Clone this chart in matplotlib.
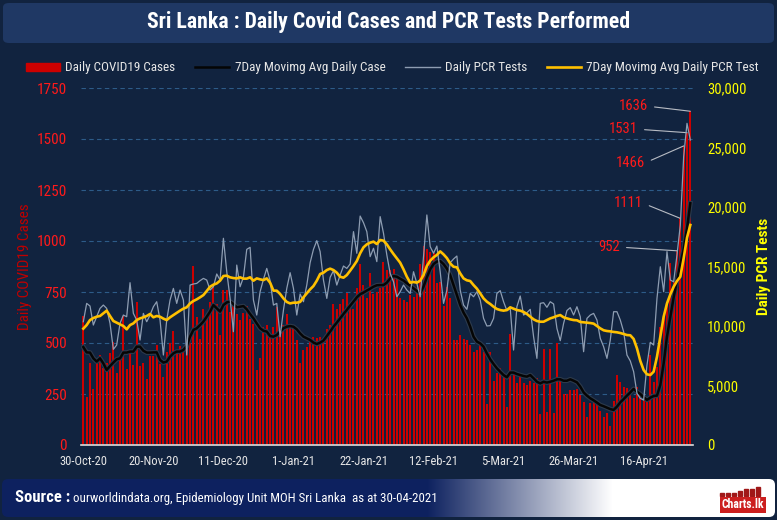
import numpy as np
import matplotlib
matplotlib.use('Agg')
import matplotlib.pyplot as plt
import matplotlib.patheffects as pe
from matplotlib import font_manager as fm
from matplotlib.patches import FancyBboxPatch, Rectangle, Patch
from matplotlib.lines import Line2D
from matplotlib.ticker import FuncFormatter

# the reference uses a condensed face; take one if installed
fonts = fm.fontManager.ttflist
names = {f.name for f in fonts}
k = 1.0
picked = None
for cand in ['Roboto Condensed', 'Open Sans Condensed', 'DejaVu Sans Condensed',
             'Liberation Sans Narrow', 'Noto Sans Condensed']:
    if cand in names:
        picked = cand
        break
if picked:
    plt.rcParams['font.family'] = [picked, 'DejaVu Sans']
elif any(f.name == 'DejaVu Sans' and f.stretch in ('condensed', 'semi-condensed') for f in fonts):
    plt.rcParams['font.family'] = ['DejaVu Sans']
    plt.rcParams['font.stretch'] = 'condensed'
    k = 0.95
else:
    plt.rcParams['font.family'] = ['Liberation Sans', 'DejaVu Sans']
    k = 0.82

# daily values, 30-Oct-20 .. 30-Apr-21 (183 days)
cases = [
    632, 237, 400, 275, 400, 441, 376, 400, 449, 507, 355, 425, 632, 373, 466, 392, 701, 389,
    400, 323, 438, 438, 490, 397, 335, 457, 498, 559, 462, 487, 457, 498, 498, 877, 629, 520,
    667, 645, 699, 776, 691, 539, 760, 760, 654, 683, 642, 613, 645, 683, 616, 593, 368, 425,
    580, 588, 547, 580, 675, 556, 588, 642, 588, 580, 515, 400, 466, 482, 515, 531, 523, 531,
    520, 567, 588, 691, 667, 691, 714, 743, 691, 667, 771, 887, 784, 722, 845, 739, 752, 771,
    899, 858, 858, 861, 817, 719, 711, 703, 735, 727, 771, 887, 976, 959, 946, 940, 793, 801,
    683, 776, 722, 515, 515, 539, 520, 515, 490, 458, 466, 490, 458, 199, 454, 314, 351, 376,
    351, 185, 544, 343, 306, 335, 306, 294, 315, 306, 327, 152, 471, 163, 471, 155, 498, 314,
    250, 248, 270, 270, 275, 245, 209, 139, 204, 212, 201, 167, 139, 155, 95, 216, 343, 310,
    286, 278, 253, 229, 286, 229, 221, 229, 441, 310, 380, 580, 640, 700, 890, 800, 952, 1111,
    1466, 1531, 1636,
]
cases_avg = [
    480, 454, 453, 425, 409, 425, 400, 368, 387, 404, 420, 425, 453, 453, 458, 458, 482, 482,
    462, 453, 453, 454, 454, 417, 404, 409, 433, 449, 458, 458, 466, 485, 531, 564, 572, 588,
    605, 629, 654, 686, 670, 654, 686, 699, 703, 691, 675, 678, 681, 665, 642, 621, 596, 572,
    560, 556, 534, 531, 539, 556, 572, 580, 583, 580, 567, 547, 531, 523, 515, 502, 495, 502,
    512, 534, 556, 580, 600, 621, 642, 662, 683, 703, 724, 739, 747, 757, 766, 776, 783, 784,
    784, 796, 817, 828, 825, 815, 806, 793, 781, 768, 755, 744, 776, 822, 861, 887, 899, 902,
    887, 865, 833, 784, 735, 686, 649, 621, 580, 531, 507, 498, 482, 449, 420, 397, 376, 359,
    343, 332, 355, 355, 348, 343, 338, 335, 343, 327, 310, 302, 310, 306, 310, 315, 322, 322,
    315, 315, 322, 315, 307, 286, 258, 242, 229, 219, 208, 196, 190, 183, 176, 172, 188, 209,
    225, 242, 258, 275, 261, 250, 234, 221, 232, 240, 242, 294, 400, 531, 626, 724, 804, 886,
    959, 1062, 1185,
]
pcr = [
    10360, 11900, 11680, 10080, 10780, 11480, 11760, 11480, 10220, 8040, 8400, 10220, 10920,
    10780, 13640, 11060, 10500, 8820, 11060, 10360, 10920, 11620, 12040, 10500, 7560, 10500,
    12180, 13160, 11900, 13020, 12180, 7560, 13440, 13530, 13580, 13810,
    14000, 13860, 13020, 13300, 14370, 13860, 17370, 14560, 12320, 9520, 15120, 13300, 14090,
    16440, 16610, 12180, 10920, 12880, 13920, 14840, 13810, 11760, 11900, 9100, 11340, 13160,
    14480, 13160, 10920, 12690, 12040, 13440, 15320, 16440, 17170, 16250,
    13860, 12320, 14090, 14650, 13440, 14280, 15040, 14840, 15210, 17930, 16110, 19240, 18680,
    17930, 15830, 16530, 15410, 19190, 17790, 15970, 14420, 13720, 12460, 12880, 13440, 13020,
    12740, 14560, 13580, 12460, 15830, 19330, 16670, 16110, 16720, 14560, 11900,
    13000, 15320, 15630, 15880, 13020, 11760, 11400, 12740, 12460, 12880, 12180, 10640, 10000,
    10030, 10640, 12740, 12970, 12040, 11290, 11480, 7980, 11620, 12520, 10920, 11120, 11400,
    9100, 7280, 11900, 11960, 11570, 12040, 11850, 9800, 8770, 10220,
    11300, 11540, 10920, 11620, 10780, 7840, 10640, 10920, 11060, 10500, 8960, 8260, 7280,
    8820, 11200, 11200, 10500, 9520, 7560, 7060, 6160, 4340, 3920, 3780, 6720, 8630, 8400,
    12320, 14980, 12880, 16250, 13860, 13720, 15970, 18490, 24230, 27030, 25630,
]
pcr_avg = [
    9780, 10080, 10500, 10670, 10780, 10840, 11060, 11290, 10840, 10420, 10280, 10140, 10000,
    9720, 10080, 10220, 10500, 10640, 10730, 10840, 11010, 10730, 10840, 10780, 10620, 10500,
    10730, 10920, 11120, 11290, 11460, 11570, 11900, 12100, 12240, 12410,
    12600, 12940, 13300, 13470, 13580, 13810, 14200, 14230, 14090, 14030, 14000, 14090, 13980,
    13980, 14090, 13810, 14000, 13920, 13860, 14000, 13640, 12970, 12970, 12690, 12320, 12020,
    11900, 11960, 11960, 12020, 12410, 12740, 13080, 13360, 13810, 14370,
    14480, 14700, 14820, 14700, 14480, 14140, 14060, 14280, 14650, 15040, 15460, 16110, 16610,
    16860, 17000, 17090, 16890, 17230, 17170, 16860, 16440, 16050, 15690, 15320, 14760, 14140,
    13640, 13700, 13640, 13810, 14280, 15040, 15490, 15770, 15970, 16270, 16020,
    15710, 15260, 14980, 14930, 14420, 14000, 13840, 13780, 13440, 13140, 12740, 12320, 12040,
    11850, 11620, 11430, 11340, 11290, 11340, 11570, 11460, 11340, 11290, 11180, 11010, 10780,
    10560, 10420, 10360, 10360, 10500, 10640, 10730, 10840, 10920, 10730,
    10640, 10560, 10500, 10480, 10340, 10310, 10280, 10250, 10200, 10000, 9800, 9640, 9580,
    9550, 9500, 9470, 9410, 9330, 9240, 9220, 8910, 8120, 7060, 6300, 5940, 5880, 6160,
    7420, 9100, 10780, 11900, 12660, 13300, 13780, 14140, 15690, 17420, 18490,
]
tick_labels = ['30-Oct-20', '20-Nov-20', '11-Dec-20', '1-Jan-21', '22-Jan-21',
               '12-Feb-21', '5-Mar-21', '26-Mar-21', '16-Apr-21']
callout_values = [952, 1111, 1466, 1531, 1636]

BG = '#11233f'
days = np.arange(len(cases))

fig = plt.figure(figsize=(7.77, 5.2), dpi=100, facecolor=BG)
ax = fig.add_axes([81 / 777, 75 / 520, 612 / 777, 357 / 520])
ax.set_facecolor(BG)

ax.bar(days, cases, width=0.6, color='#cc0000', zorder=2)
ax.plot(days, cases_avg, color='#050505', lw=1.8, zorder=3,
        path_effects=[pe.Stroke(linewidth=3.4, foreground='#2c3a4c'), pe.Normal()])

ax.set_xlim(-0.7, 182.8)
ax.set_ylim(0, 1750)
ax.set_yticks(range(0, 1751, 250))
ax.yaxis.grid(True, ls=(0, (4, 3)), color='#2d5b88', lw=0.8)
ax.set_axisbelow(True)
for s in ['top', 'left', 'right']:
    ax.spines[s].set_visible(False)
ax.spines['bottom'].set_color('#dddddd')
ax.spines['bottom'].set_linewidth(1.2)
ax.tick_params(axis='y', length=0, pad=10, labelcolor='#ff1a1a', labelsize=11 * k)
ax.set_xticks(range(0, 169, 21))
ax.set_xticklabels(tick_labels)
ax.tick_params(axis='x', length=0, pad=7, labelcolor='#e6e6e6', labelsize=9 * k)
ax.set_ylabel('Daily COVID19 Cases', color='#c00000', fontsize=11 * k)
ax.yaxis.set_label_coords(-0.08, 0.5)

ax2 = ax.twinx()
ax2.plot(days, pcr, color='#8e9db2', lw=0.9, zorder=2)
ax2.plot(days, pcr_avg, color='#ffc000', lw=1.9, zorder=3)
ax2.set_ylim(0, 30000)
ax2.set_yticks(range(0, 30001, 5000))
ax2.yaxis.set_major_formatter(FuncFormatter(lambda v, p: f'{v:,.0f}'))
for s in ['top', 'left', 'right', 'bottom']:
    ax2.spines[s].set_visible(False)
ax2.tick_params(axis='y', length=0, pad=10, labelcolor='#ffff00', labelsize=10.5 * k)
ax2.set_ylabel('Daily PCR Tests', color='#ffff00', fontsize=11 * k, fontweight='bold')
ax2.yaxis.set_label_coords(1.105, 0.5)

# callouts for the last days
text_pos = {952: (160.8, 970), 1111: (167.7, 1186), 1466: (168.3, 1382),
            1531: (166.2, 1548), 1636: (169.2, 1661)}
for v in callout_values:
    d = cases.index(v)
    ax.annotate(str(v), xy=(d, v), xytext=text_pos[v], textcoords='data',
                color='#ff1a1a', fontsize=10.5 * k, ha='right', va='center', zorder=6,
                arrowprops=dict(arrowstyle='-', color='#b8bcc4', lw=0.8,
                                shrinkA=3, shrinkB=0, relpos=(1, 0.5)))

# legend
handles = [Patch(color='#cc0000', label='Daily COVID19 Cases'),
           Line2D([0], [0], color='#050505', lw=1.8, label='7Day Movimg Avg Daily Case'),
           Line2D([0], [0], color='#8e9db2', lw=1, label='Daily PCR Tests'),
           Line2D([0], [0], color='#ffc000', lw=1.9, label='7Day Movimg Avg Daily PCR Test')]
fig.legend(handles=handles, ncol=4, loc='center', bbox_to_anchor=(0.505, 1 - 68 / 520),
           frameon=False, labelcolor='#e6e6e6', fontsize=9.5 * k, handlelength=2.6,
           handleheight=0.6, columnspacing=1.5, handletextpad=0.4)

# title bar
fig.patches.append(FancyBboxPatch((3 / 777, 1 - 43 / 520), 771 / 777, 40 / 520,
                                  boxstyle='round,pad=0,rounding_size=0.008',
                                  transform=fig.transFigure, fc='#1f3864', ec='none'))
fig.text(0.5, 1 - 22 / 520, 'Sri Lanka : Daily Covid Cases and PCR Tests Performed',
         color='white', fontsize=15.7 * k, fontweight='bold', ha='center', va='center')

# footer with gradient
fax = fig.add_axes([2 / 777, 3 / 520, 773 / 777, 38 / 520])
fax.set_xlim(0, 773)
fax.set_ylim(0, 38)
fax.axis('off')
t = np.linspace(0, 1, 773)
mix = np.clip((t - 0.55) / 0.24, 0, 1)
navy = np.array([13, 33, 95]) / 255
grad = navy[None, :] * (1 - mix[:, None]) + mix[:, None]
im = fax.imshow(grad[None, :, :], extent=(0, 773, 0, 38), aspect='auto')
clip = FancyBboxPatch((0, 0), 773, 38, boxstyle='round,pad=0,rounding_size=6',
                      fc='none', ec='none')
fax.add_patch(clip)
im.set_clip_path(clip)
src = fax.text(13, 19, 'Source :', color='white', fontsize=12 * k, fontweight='bold',
               va='center')
fig.canvas.draw()
bb = src.get_window_extent().transformed(fax.transData.inverted())
fax.text(bb.x1 + 3, 18.5,
         'ourworldindata.org, Epidemiology Unit MOH Sri Lanka  as at 30-04-2021',
         color='white', fontsize=9.3 * k, va='center')

# Charts.lk logo
for i, h in enumerate([3, 3, 3, 5, 7, 7, 9]):
    fax.add_patch(Rectangle((718 + i * 6, 21), 3.6, h, color='#a01818'))
fax.text(741, 12, 'Charts.lk', color='white', fontsize=8.5 * k, fontweight='bold',
         ha='center', va='center',
         bbox=dict(boxstyle='square,pad=0.15', fc='#cc1f1f', ec='none'))

fig.savefig('out.png', dpi=100, facecolor=BG)
